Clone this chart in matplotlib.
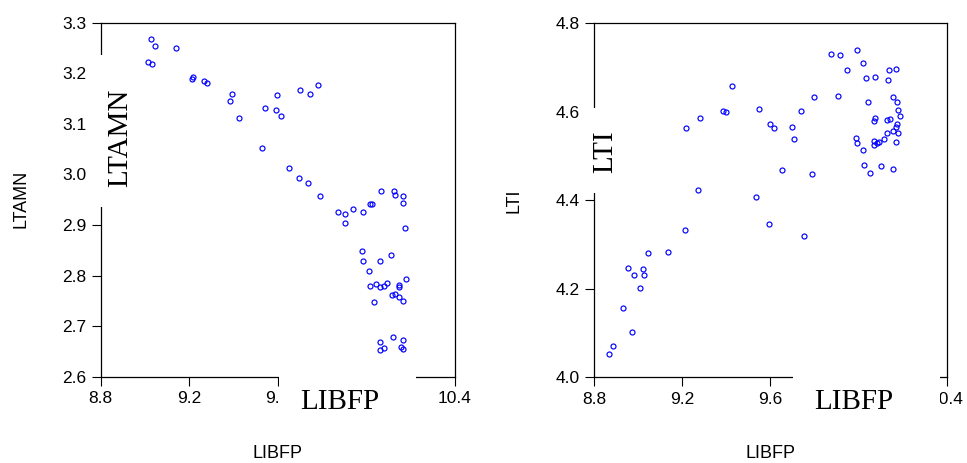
import matplotlib
matplotlib.use('Agg')
import matplotlib.pyplot as plt
from matplotlib.patches import Rectangle

# left panel: LTAMN against LIBFP
libfp_a = [9.026, 9.045, 9.139, 9.012, 9.030, 9.212, 9.218, 9.269, 9.280, 9.396,
           9.384, 9.426, 9.545, 9.596, 9.591, 9.614, 9.703, 9.748, 9.784, 9.531,
           9.650, 9.697, 9.736, 9.793, 9.871, 9.907, 9.904, 9.942, 9.987, 10.016,
           10.028, 10.067, 10.127, 10.132, 10.165, 10.166, 10.175, 9.983, 9.986, 10.013,
           10.064, 10.111, 10.020, 10.043, 10.065, 10.080, 10.096, 10.148, 10.151, 10.180,
           10.037, 10.118, 10.133, 10.151, 10.168, 10.065, 10.065, 10.080, 10.123, 10.166,
           10.160, 10.169]
ltamn = [3.268, 3.254, 3.249, 3.223, 3.218, 3.189, 3.193, 3.185, 3.180, 3.160,
         3.145, 3.112, 3.131, 3.157, 3.128, 3.116, 3.166, 3.159, 3.177, 3.052,
         3.013, 2.992, 2.984, 2.958, 2.926, 2.921, 2.904, 2.931, 2.926, 2.942,
         2.941, 2.967, 2.967, 2.959, 2.957, 2.944, 2.895, 2.849, 2.829, 2.809,
         2.828, 2.840, 2.779, 2.783, 2.777, 2.780, 2.785, 2.782, 2.778, 2.793,
         2.747, 2.762, 2.764, 2.758, 2.749, 2.669, 2.653, 2.656, 2.678, 2.673,
         2.658, 2.654]

# right panel: LTI against LIBFP
libfp_b = [9.427, 9.385, 9.397, 9.280, 9.217, 9.547, 9.599, 9.617, 9.654, 9.271,
           9.533, 9.595, 9.214, 9.136, 9.044, 8.955, 9.024, 8.983, 9.029, 9.009,
           8.932, 8.974, 8.888, 8.870, 9.876, 9.914, 9.994, 10.021, 9.947, 10.033,
           10.073, 10.138, 10.171, 10.133, 9.799, 9.909, 9.741, 10.044, 10.158, 10.173,
           10.180, 10.186, 9.700, 9.708, 10.070, 10.076, 10.127, 10.141, 10.174, 10.171,
           10.158, 10.177, 10.129, 10.117, 9.990, 9.991, 10.071, 10.071, 10.086, 10.091,
           10.170, 10.020, 9.791, 10.027, 10.050, 10.100, 10.158, 9.753]
lti = [4.658, 4.602, 4.600, 4.586, 4.563, 4.606, 4.572, 4.564, 4.468, 4.423,
       4.407, 4.346, 4.333, 4.284, 4.280, 4.247, 4.245, 4.231, 4.232, 4.201,
       4.157, 4.102, 4.070, 4.053, 4.731, 4.728, 4.740, 4.710, 4.695, 4.677,
       4.679, 4.694, 4.697, 4.672, 4.633, 4.636, 4.602, 4.622, 4.633, 4.622,
       4.603, 4.591, 4.566, 4.539, 4.580, 4.587, 4.581, 4.583, 4.572, 4.565,
       4.556, 4.551, 4.552, 4.539, 4.540, 4.530, 4.535, 4.525, 4.530, 4.532,
       4.532, 4.514, 4.459, 4.480, 4.461, 4.478, 4.471, 4.319]

x_ticks = [8.8, 9.2, 9.6, 10.0, 10.4]
# the 10.0 label sits under the big LIBFP box, so it is left blank
x_labels = ['8.8', '9.2', '9.6', '', '10.4']
ltamn_ticks = [2.6, 2.7, 2.8, 2.9, 3.0, 3.1, 3.2, 3.3]
lti_ticks = [4.0, 4.2, 4.4, 4.6, 4.8]

W, H = 967, 463
plt.rcParams['font.family'] = 'Liberation Sans'
fig = plt.figure(figsize=(W / 100, H / 100), dpi=100)


def px_axes(l, t, r, b):
    return fig.add_axes([l / W, 1 - b / H, (r - l) / W, (b - t) / H])


def style(ax, yticks, ylim):
    ax.set_xlim(8.8, 10.4)
    ax.set_ylim(*ylim)
    ax.set_xticks(x_ticks)
    ax.set_xticklabels(x_labels)
    ax.set_yticks(yticks)
    ax.set_yticklabels(['%.1f' % v for v in yticks])
    ax.tick_params(direction='out', length=6.5, width=0.8, labelsize=12.5,
                   pad=4, colors='black')
    for s in ax.spines.values():
        s.set_linewidth(0.9)


ax1 = px_axes(100.7, 22.7, 454.5, 376.7)
ax1.plot(libfp_a, ltamn, 'o', ms=3.6, mfc='none', mec='#0000ff', mew=0.85,
         clip_on=False)
style(ax1, ltamn_ticks, (2.6, 3.3))

ax2 = px_axes(594, 23.3, 946.7, 377.3)
ax2.plot(libfp_b, lti, 'o', ms=3.6, mfc='none', mec='#0000ff', mew=0.85,
         clip_on=False)
style(ax2, lti_ticks, (4.0, 4.8))

# small axis titles
fig.text(277.6 / W, 1 - 453 / H, 'LIBFP', ha='center', va='center', fontsize=13)
fig.text(770.3 / W, 1 - 453 / H, 'LIBFP', ha='center', va='center', fontsize=13)
fig.text(21 / W, 1 - 199 / H, 'LTAMN', ha='center', va='center', fontsize=13,
         rotation=90)
fig.text(514 / W, 1 - 201 / H, 'LTI', ha='center', va='center', fontsize=13,
         rotation=90)


# big serif labels on white boxes, drawn over the frame
def label_box(l, t, r, b, tx, ty, txt, rot=0):
    fig.add_artist(Rectangle((l / W, 1 - b / H), (r - l) / W, (b - t) / H,
                             transform=fig.transFigure, facecolor='white',
                             edgecolor='none', zorder=10))
    fig.text(tx / W, 1 - ty / H, txt, ha='center', va='center', rotation=rot,
             fontsize=21, family='Liberation Serif', zorder=11)


label_box(90, 55, 133, 207, 120.5, 137.5, 'LTAMN', rot=90)
label_box(279, 369, 416, 422, 340, 402, 'LIBFP')
label_box(585, 108, 618, 193, 605, 152, 'LTI', rot=90)
label_box(793, 369, 940, 422, 853.5, 402, 'LIBFP')

fig.savefig('out.png', dpi=100, facecolor='white')
